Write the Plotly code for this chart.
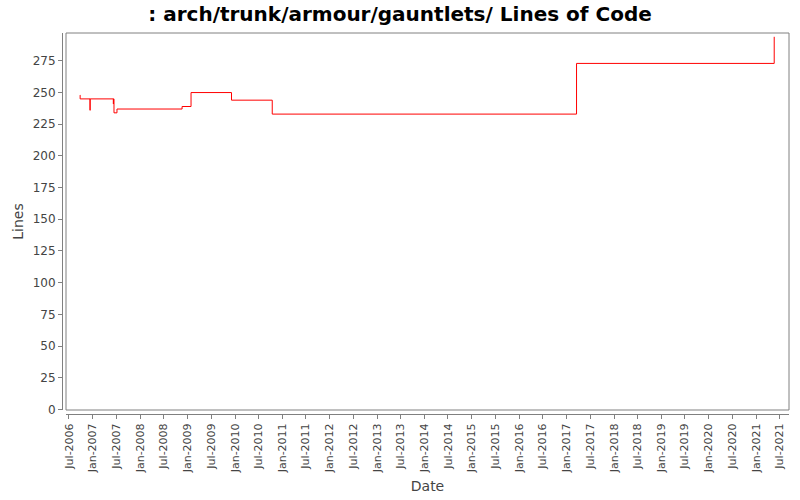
import plotly.graph_objects as go

dates = [
    "2006-09-24", "2006-09-25", "2006-12-10", "2006-12-11",
    "2007-06-08", "2007-06-09", "2007-06-13", "2007-07-06",
    "2008-11-19", "2009-01-27", "2009-12-05", "2010-10-15",
    "2017-03-18", "2021-05-20",
]
lines = [
    248, 245, 236, 245,
    241, 245, 234, 237,
    239, 250, 244, 233,
    273, 294,
]

y_ticks = list(range(0, 276, 25))

W, H = 800, 500
ml, mr, mt, mb = 62, 11, 33, 86
pw = W - ml - mr
ph = H - mt - mb
gap = 4

fig = go.Figure()
fig.add_trace(go.Scatter(
    x=dates, y=lines, mode="lines", line_shape="hv",
    line=dict(color="#ff0000", width=1), showlegend=False, hoverinfo="skip",
))

axis_grey = "#808080"
fig.update_layout(
    width=W, height=H,
    margin=dict(l=ml, r=mr, t=mt, b=mb, autoexpand=False),
    paper_bgcolor="white", plot_bgcolor="white",
    font=dict(family="DejaVu Sans", color="#444444"),
    title=dict(
        text="<b>: arch/trunk/armour/gauntlets/ Lines of Code</b>",
        x=0.5, xanchor="center", y=1 - 14 / H, yanchor="middle",
        font=dict(family="DejaVu Sans", size=20, color="black"),
    ),
    xaxis=dict(
        type="date", automargin=False,
        domain=[gap / pw, 1],
        anchor="free", position=0,
        range=["2006-06-08", "2021-09-11"],
        tickmode="linear", tick0="2006-07-01", dtick="M6",
        tickformat="%b-%Y", tickangle=-90,
        tickfont=dict(size=11, color="#444444"),
        ticks="outside", ticklen=4, tickcolor=axis_grey,
        showline=True, linecolor=axis_grey, linewidth=1,
        showgrid=False, zeroline=False,
        title=dict(text="Date", font=dict(size=14, color="#444444"), standoff=8),
    ),
    yaxis=dict(
        automargin=False,
        domain=[gap / ph, 1],
        anchor="free", position=0,
        range=[-0.5, 297],
        tickmode="array", tickvals=y_ticks,
        tickfont=dict(size=12, color="#444444"),
        ticks="outside", ticklen=4, tickcolor=axis_grey,
        showline=True, linecolor=axis_grey, linewidth=1,
        showgrid=False, zeroline=False,
        title=dict(text="Lines", font=dict(size=14, color="#444444"), standoff=4),
    ),
)

fig.add_shape(
    type="rect", xref="x domain", yref="y domain",
    x0=0, x1=1, y0=0, y1=1,
    line=dict(color=axis_grey, width=1), fillcolor="rgba(0,0,0,0)",
    layer="above",
)

fig.write_html(
    "out.html",
    config={"displayModeBar": False},
    post_script="document.body.style.margin='0';document.body.style.padding='0';",
)
